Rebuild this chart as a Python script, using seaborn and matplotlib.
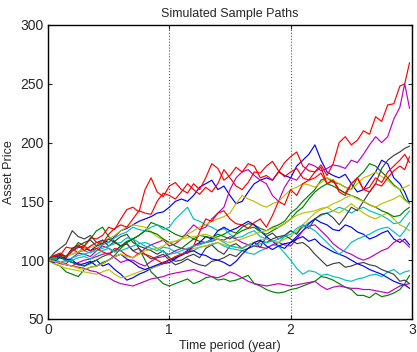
import numpy as np
import pandas as pd
import matplotlib
matplotlib.use("Agg")
import matplotlib.pyplot as plt
import seaborn as sns

# time grid (years), 61 samples
times = [0.00, 0.05, 0.10, 0.15, 0.20, 0.25, 0.30, 0.35, 0.40, 0.45, 0.50, 0.55, 0.60, 0.65,
         0.70, 0.75, 0.80, 0.85, 0.90, 0.95, 1.00, 1.05, 1.10, 1.15, 1.20, 1.25, 1.30, 1.35,
         1.40, 1.45, 1.50, 1.55, 1.60, 1.65, 1.70, 1.75, 1.80, 1.85, 1.90, 1.95, 2.00, 2.05,
         2.10, 2.15, 2.20, 2.25, 2.30, 2.35, 2.40, 2.45, 2.50, 2.55, 2.60, 2.65, 2.70, 2.75,
         2.80, 2.85, 2.90, 2.94, 2.98]

red_a = [100, 99, 104, 111, 110, 106, 112, 119, 118, 121, 128, 126, 135, 143, 145, 141, 160, 170, 158, 154,
         163, 166, 160, 157, 165, 160, 170, 182, 178, 168, 172, 179, 175, 182, 180, 170, 172, 168, 175, 183,
         188, 192, 180, 176, 175, 181, 172, 182, 200, 205, 198, 202, 210, 207, 222, 218, 232, 233, 248, 250, 268]
red_b = [100, 103, 105, 102, 110, 113, 108, 112, 115, 114, 122, 127, 130, 128, 135, 142, 140, 139, 150, 157,
         155, 152, 158, 165, 160, 156, 162, 158, 165, 177, 170, 163, 160, 166, 175, 174, 180, 184, 176, 171,
         175, 178, 170, 168, 175, 179, 165, 168, 160, 157, 165, 170, 160, 162, 170, 166, 175, 180, 185, 190, 183]
red_c = [100, 104, 106, 103, 108, 111, 112, 108, 110, 107, 105, 110, 108, 104, 102, 106, 105, 103, 100, 97,
         100, 103, 105, 106, 112, 124, 135, 133, 140, 142, 135, 131, 130, 127, 132, 135, 128, 138, 150, 147,
         160, 155, 165, 168, 170, 174, 165, 168, 158, 155, 165, 170, 160, 158, 165, 163, 170, 176, 180, 177, 188]
mag_a = [100, 101, 98, 97, 102, 106, 105, 103, 108, 112, 110, 107, 112, 114, 108, 105, 110, 113, 115, 117,
         112, 114, 118, 124, 130, 126, 128, 135, 140, 145, 160, 170, 175, 177, 172, 168, 165, 155, 150, 162,
         170, 168, 175, 182, 180, 176, 178, 181, 180, 178, 185, 183, 190, 198, 205, 200, 205, 220, 230, 250, 229]
blk_a = [100, 106, 110, 114, 125, 120, 118, 121, 115, 117, 112, 116, 120, 122, 115, 112, 110, 108, 105, 108,
         102, 99, 100, 103, 105, 102, 110, 113, 108, 105, 112, 114, 110, 113, 115, 111, 120, 123, 118, 121,
         125, 122, 130, 127, 135, 139, 140, 136, 130, 137, 145, 142, 150, 158, 165, 178, 185, 189, 192, 195, 197]
blk_b = [100, 102, 105, 103, 110, 112, 115, 117, 112, 114, 118, 115, 112, 114, 108, 110, 105, 101, 103, 105,
         100, 96, 98, 101, 98, 96, 95, 99, 100, 102, 105, 103, 108, 110, 112, 116, 115, 118, 120, 121,
         118, 114, 115, 111, 105, 100, 95, 97, 98, 94, 95, 97, 98, 96, 95, 92, 90, 88, 82, 83, 80]
blu_a = [100, 103, 104, 102, 108, 111, 110, 108, 112, 117, 115, 120, 125, 127, 130, 133, 135, 137, 140, 141,
         145, 150, 152, 150, 155, 162, 165, 168, 160, 163, 155, 148, 150, 158, 165, 168, 170, 168, 175, 172,
         170, 180, 185, 190, 198, 185, 175, 172, 170, 173, 165, 158, 160, 168, 175, 185, 182, 170, 165, 158, 148]
blu_b = [100, 104, 102, 100, 98, 97, 95, 98, 100, 95, 97, 92, 88, 83, 85, 88, 90, 93, 95, 97,
         98, 101, 105, 108, 112, 115, 120, 118, 125, 128, 125, 127, 130, 133, 130, 125, 120, 116, 112, 110,
         115, 120, 125, 131, 135, 132, 130, 126, 125, 130, 128, 124, 122, 118, 120, 123, 125, 118, 115, 118, 113]
blu_c = [100, 98, 103, 101, 100, 96, 97, 99, 95, 97, 100, 103, 105, 101, 98, 94, 92, 94, 96, 98,
         100, 102, 104, 107, 108, 105, 104, 101, 100, 98, 95, 99, 105, 110, 115, 117, 112, 109, 112, 114,
         115, 118, 120, 116, 118, 113, 110, 107, 105, 103, 100, 97, 95, 92, 90, 88, 85, 82, 80, 79, 76]
grn_a = [100, 102, 105, 103, 108, 115, 112, 118, 125, 128, 120, 116, 112, 115, 118, 121, 125, 132, 130, 128,
         125, 122, 120, 121, 118, 116, 115, 118, 120, 122, 125, 123, 128, 131, 130, 127, 125, 128, 130, 133,
         140, 144, 150, 155, 160, 168, 170, 166, 165, 162, 160, 170, 175, 182, 180, 175, 170, 164, 160, 152, 148]
grn_b = [100, 97, 95, 90, 88, 86, 92, 94, 95, 98, 100, 104, 110, 115, 118, 110, 100, 90, 85, 80,
         78, 80, 82, 84, 80, 82, 85, 86, 83, 84, 82, 83, 85, 87, 80, 78, 75, 73, 72, 73,
         75, 76, 78, 80, 82, 86, 85, 83, 80, 77, 75, 70, 70, 68, 72, 69, 70, 72, 75, 80, 87]
grn_c = [100, 101, 103, 100, 98, 96, 95, 97, 100, 103, 105, 108, 112, 116, 118, 121, 125, 124, 122, 118,
         115, 112, 110, 114, 118, 121, 120, 119, 122, 120, 118, 122, 125, 127, 128, 124, 122, 125, 128, 131,
         135, 141, 145, 152, 158, 162, 165, 163, 160, 157, 155, 153, 150, 147, 145, 142, 140, 137, 138, 142, 145]
cyn_a = [100, 99, 102, 104, 105, 107, 108, 106, 110, 113, 115, 119, 122, 124, 128, 126, 125, 128, 130, 126,
         128, 135, 140, 145, 135, 133, 130, 128, 125, 127, 122, 119, 120, 123, 125, 120, 118, 116, 115, 120,
         125, 123, 128, 132, 135, 138, 140, 142, 145, 143, 140, 143, 145, 142, 140, 138, 135, 131, 132, 137, 142]
cyn_b = [100, 101, 98, 100, 102, 104, 105, 107, 108, 110, 112, 114, 115, 119, 118, 115, 112, 110, 108, 111,
         110, 107, 105, 106, 108, 111, 112, 113, 115, 112, 110, 109, 108, 106, 105, 108, 110, 113, 112, 106,
         100, 93, 88, 91, 90, 87, 88, 86, 85, 83, 82, 84, 85, 87, 88, 86, 90, 92, 88, 90, 91]
cyn_c = [100, 102, 98, 99, 100, 102, 103, 101, 105, 108, 110, 107, 108, 110, 112, 114, 115, 113, 110, 107,
         105, 106, 108, 110, 112, 113, 115, 117, 118, 115, 112, 111, 110, 113, 112, 114, 115, 116, 118, 120,
         122, 127, 130, 128, 125, 120, 115, 110, 105, 109, 115, 118, 120, 122, 125, 127, 128, 124, 120, 125, 132]
mag_b = [100, 99, 97, 96, 95, 98, 100, 101, 103, 105, 106, 102, 98, 100, 100, 97, 95, 99, 102, 103,
         105, 108, 110, 109, 112, 114, 115, 116, 118, 117, 120, 118, 115, 113, 112, 111, 110, 113, 115, 113,
         112, 118, 125, 129, 130, 125, 120, 114, 110, 107, 105, 102, 100, 102, 105, 108, 110, 115, 118, 115, 111]
mag_c = [100, 99, 98, 96, 95, 94, 93, 91, 90, 87, 85, 82, 80, 79, 78, 80, 82, 84, 85, 86,
         88, 89, 90, 91, 92, 90, 88, 86, 85, 87, 90, 88, 85, 82, 80, 79, 78, 79, 80, 79,
         78, 79, 80, 81, 82, 78, 75, 77, 78, 77, 76, 76, 75, 75, 74, 73, 72, 75, 78, 79, 80]
yel_a = [100, 101, 102, 104, 105, 107, 110, 111, 112, 116, 118, 121, 125, 128, 130, 129, 128, 124, 120, 117,
         115, 116, 118, 122, 125, 128, 130, 133, 135, 137, 140, 148, 155, 152, 150, 147, 145, 148, 150, 155,
         160, 162, 165, 164, 162, 166, 170, 168, 165, 162, 160, 165, 170, 172, 175, 171, 168, 163, 160, 162, 164]
yel_b = [100, 97, 95, 93, 92, 91, 90, 89, 88, 90, 92, 88, 85, 86, 88, 90, 92, 93, 95, 98,
         100, 103, 105, 107, 110, 111, 112, 114, 115, 113, 112, 111, 110, 113, 115, 117, 118, 116, 115, 118,
         120, 125, 130, 135, 140, 143, 145, 142, 140, 144, 148, 144, 140, 137, 135, 138, 140, 135, 130, 128, 125]
yel_c = [100, 99, 98, 96, 95, 93, 92, 94, 95, 97, 100, 103, 105, 103, 102, 105, 108, 109, 110, 112,
         115, 116, 118, 119, 120, 121, 122, 120, 118, 116, 115, 117, 118, 120, 122, 124, 125, 127, 128, 131,
         135, 138, 140, 141, 142, 144, 145, 148, 150, 153, 155, 152, 150, 147, 145, 148, 150, 152, 155, 151, 148]

paths = {
    "blu_a": blu_a, "grn_a": grn_a, "red_a": red_a, "cyn_a": cyn_a, "mag_a": mag_a,
    "yel_a": yel_a, "blk_a": blk_a, "blu_b": blu_b, "grn_b": grn_b, "red_b": red_b,
    "cyn_b": cyn_b, "mag_b": mag_b, "yel_b": yel_b, "blk_b": blk_b, "blu_c": blu_c,
    "grn_c": grn_c, "red_c": red_c, "cyn_c": cyn_c, "mag_c": mag_c, "yel_c": yel_c,
}
color_of = {"blu": (0, 0, 1), "grn": (0, 0.5, 0), "red": (1, 0, 0), "cyn": (0, 0.75, 0.75),
            "mag": (0.75, 0, 0.75), "yel": (0.75, 0.75, 0), "blk": (0.25, 0.25, 0.25)}

rows = []
for name, vals in paths.items():
    for t, v in zip(times, vals):
        rows.append({"t": t, "price": v, "path": name})
df = pd.DataFrame(rows)
palette = {name: color_of[name[:3]] for name in paths}

sns.set_style("white")
plt.rcParams["font.family"] = ["Liberation Sans", "DejaVu Sans"]

fig = plt.figure(figsize=(4.17, 3.52), dpi=100)
ax = fig.add_axes([0.115, 0.094, 0.873, 0.835])
sns.lineplot(data=df, x="t", y="price", hue="path", palette=palette, legend=False,
             estimator=None, sort=False, linewidth=0.85, ax=ax)

ax.set_xlim(0, 3)
ax.set_ylim(50, 300)
ax.set_xticks([0, 1, 2, 3])
ax.set_yticks([50, 100, 150, 200, 250, 300])
ax.xaxis.grid(True, linestyle=":", color="0.35", linewidth=0.8)
ax.yaxis.grid(False)
for s in ax.spines.values():
    s.set_visible(True)
    s.set_color("black")
    s.set_linewidth(1.0)
ax.tick_params(direction="in", length=3, width=0.8, labelsize=10, top=True, right=True,
               bottom=True, left=True, pad=3)
ax.set_title("Simulated Sample Paths", fontsize=9, pad=6)
ax.set_xlabel("Time period (year)", fontsize=9, labelpad=2)
ax.set_ylabel("Asset Price", fontsize=9, labelpad=4)

fig.savefig("out.png", dpi=100)
